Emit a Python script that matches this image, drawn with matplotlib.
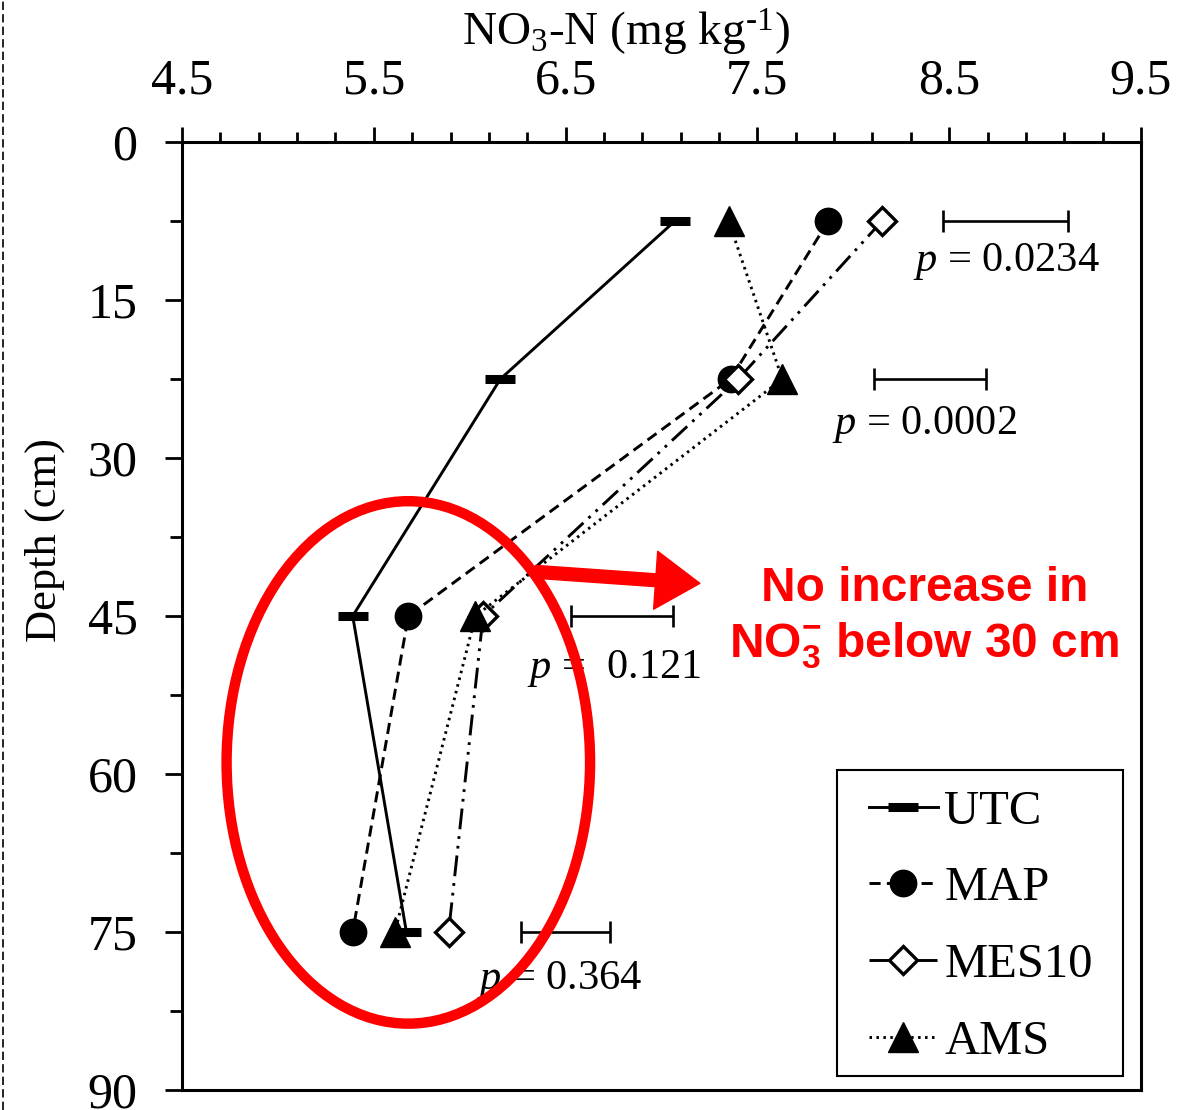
import matplotlib
matplotlib.use('Agg')
from matplotlib import pyplot as plt
from matplotlib.patches import Ellipse, Rectangle
from matplotlib.lines import Line2D
import numpy as np

# depths (cm) and NO3-N (mg/kg) per treatment
depth = [7.5, 22.5, 45, 75]
utc = [7.07, 6.16, 5.39, 5.67]
map_ = [7.87, 7.36, 5.68, 5.39]
mes10 = [8.15, 7.40, 6.07, 5.89]
ams = [7.35, 7.63, 6.03, 5.61]

# LSD style bars: centre, half width, and p labels
bar_center = [8.795, 8.40, 6.795, 6.50]
bar_half = [0.325, 0.29, 0.265, 0.23]
p_labels = ['0.0234', '0.0002', ' 0.121', '0.364']
p_pos = [(8.31, 11.3), (7.89, 26.8), (6.30, 50.0), (6.04, 79.5)]

plt.rcParams['font.family'] = 'Liberation Serif'
plt.rcParams['mathtext.fontset'] = 'custom'
plt.rcParams['mathtext.rm'] = 'Liberation Serif'
plt.rcParams['mathtext.it'] = 'Liberation Serif:italic'
plt.rcParams['mathtext.bf'] = 'Liberation Sans:bold'
plt.rcParams['lines.scale_dashes'] = False

fig = plt.figure(figsize=(11.98, 11.10), dpi=100)
ax = fig.add_axes([182 / 1198, 1 - 1090 / 1110, (1141 - 182) / 1198, (1090 - 142) / 1110])

lw = 2.1
ax.plot(utc, depth, color='black', lw=lw, marker='_', ms=22, mew=6.5, label='UTC', zorder=3)
ax.plot(map_, depth, color='black', lw=lw, dashes=(8, 4.5), marker='o', ms=19, label='MAP', zorder=3)
ax.plot(mes10, depth, color='black', lw=lw, dashes=(15, 5, 2, 5, 2, 5), marker='D', ms=14,
        mfc='white', mec='black', mew=2.4, label='MES10', zorder=3)
ax.plot(ams, depth, color='black', lw=lw, dashes=(1.8, 3.2), marker='^', ms=21, label='AMS', zorder=4)

ax.errorbar(bar_center, depth, xerr=bar_half, fmt='none', ecolor='black', elinewidth=1.9,
            capsize=8, capthick=1.9, zorder=3)
for (px, py), lab in zip(p_pos, p_labels):
    ax.text(px, py, r'$p$ = ' + lab, fontsize=30.5, va='center', ha='left', zorder=3)

ax.set_xlim(4.5, 9.5)
ax.set_ylim(90, 0)
ax.xaxis.tick_top()
ax.xaxis.set_label_position('top')
ax.set_xticks(np.arange(4.5, 9.6, 1.0))
ax.set_xticks(np.arange(4.5, 9.6, 0.2), minor=True)
ax.set_yticks(np.arange(0, 91, 15))
ax.set_yticks(np.arange(0, 91, 7.5), minor=True)
ax.tick_params(which='both', direction='out', width=2, labelsize=36, colors='black')
ax.tick_params(axis='x', which='major', length=11, pad=16)
ax.tick_params(axis='x', which='minor', length=7)
ax.tick_params(axis='y', which='major', length=12, pad=20)
ax.tick_params(axis='y', which='minor', length=9)
for s in ax.spines.values():
    s.set_linewidth(2.2)

ax.set_xlabel(r'NO$_3$-N (mg kg$^{\text{-}1}$)', fontsize=34)
ax.xaxis.set_label_coords(0.463, 1.102)
ax.set_ylabel('Depth (cm)', fontsize=32)
ax.yaxis.set_label_coords(-0.122, 0.58)

# legend box drawn separately so its padding matches the original
ax.add_patch(Rectangle((0.683, 0.0148), 0.2982, 0.3228, transform=ax.transAxes,
                       facecolor='white', edgecolor='black', lw=1.5, zorder=4.5))
leg = ax.legend(loc='upper left', bbox_to_anchor=(0.716, 0.3167), borderaxespad=0,
                fontsize=35, numpoints=1, handlelength=1.42, handletextpad=0.14,
                labelspacing=0.67, borderpad=0, frameon=False)

# red annotation
ell = Ellipse((5.68, 58.9), 1.895, 49.6, fill=False, edgecolor='red', lw=7.5, zorder=6)
ax.add_patch(ell)
ax.annotate('', xy=(7.2, 41.9), xytext=(6.34, 40.8),
            arrowprops=dict(arrowstyle='simple,head_length=1.45,head_width=1.9,tail_width=0.42',
                            color='red', mutation_scale=22, shrinkA=0, shrinkB=0), zorder=6)
ax.text(8.37, 42.4, 'No increase in', color='red', fontsize=34.5, fontweight='bold',
        family='Liberation Sans', ha='center', va='center', zorder=6)
ax.text(8.37, 47.8, r'NO$_{\mathbf{3}}^{\mathbf{-}}$ below 30 cm', color='red', fontsize=34.5,
        fontweight='bold', family='Liberation Sans', ha='center', va='center', zorder=6)

# dashed border on the left edge
fig.add_artist(Line2D([3 / 1198, 3 / 1198], [0, 1], transform=fig.transFigure, color='black',
                      lw=1.2, dashes=(6, 3)))

fig.savefig('out.png', dpi=100)
